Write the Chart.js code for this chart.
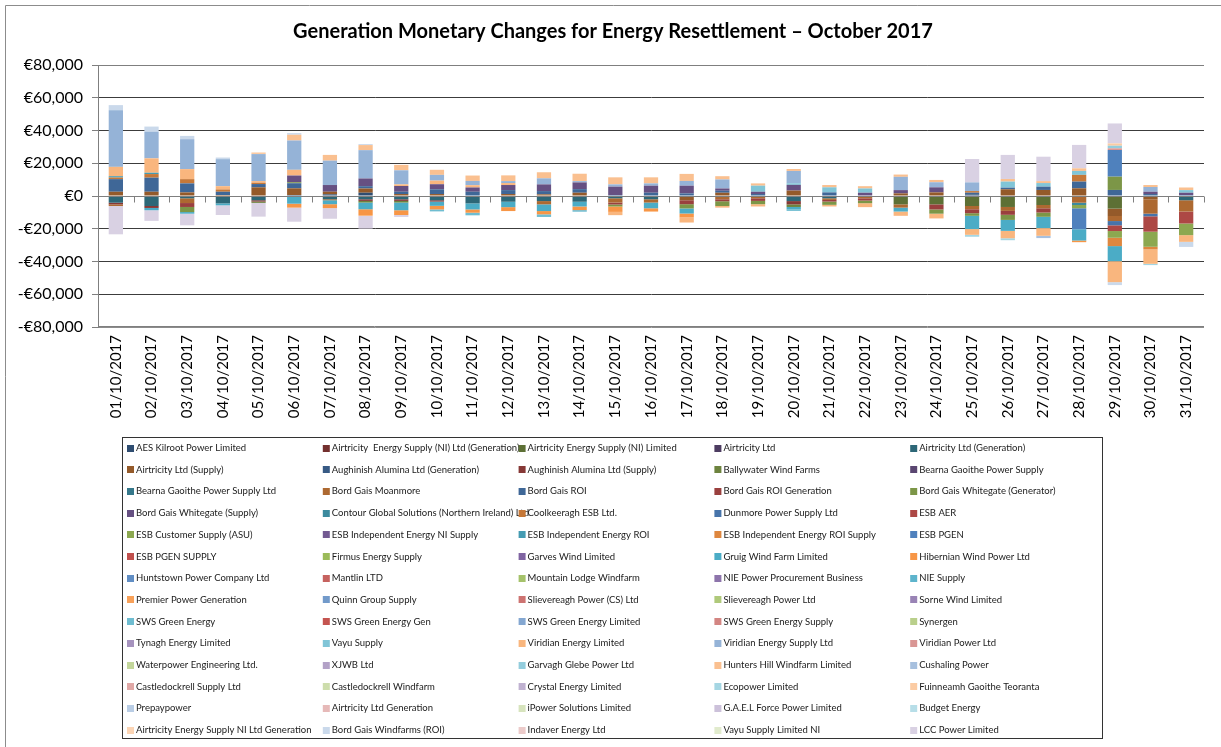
<!DOCTYPE html>
<html>
<head>
<meta charset="utf-8">
<script src="https://cdn.jsdelivr.net/npm/chart.js@4.4.1/dist/chart.umd.min.js"></script>
<style>
  html, body { margin: 0; padding: 0; background: #fff; }
  canvas { display: block; }
</style>
</head>
<body>
<canvas id="chart" width="1221" height="747"></canvas>
<script>
const dates = ['01/10/2017','02/10/2017','03/10/2017','04/10/2017','05/10/2017','06/10/2017','07/10/2017','08/10/2017','09/10/2017','10/10/2017',
  '11/10/2017','12/10/2017','13/10/2017','14/10/2017','15/10/2017','16/10/2017','17/10/2017','18/10/2017','19/10/2017','20/10/2017',
  '21/10/2017','22/10/2017','23/10/2017','24/10/2017','25/10/2017','26/10/2017','27/10/2017','28/10/2017','29/10/2017','30/10/2017','31/10/2017'];

const yMin = -80000, yMax = 80000, yStep = 20000;

const seriesNames = [
  'AES Kilroot Power Limited', 'Airtricity  Energy Supply (NI) Ltd (Generation)', 'Airtricity Energy Supply (NI) Limited', 'Airtricity Ltd', 'Airtricity Ltd (Generation)',
  'Airtricity Ltd (Supply)', 'Aughinish Alumina Ltd (Generation)', 'Aughinish Alumina Ltd (Supply)', 'Ballywater Wind Farms', 'Bearna Gaoithe Power Supply',
  'Bearna Gaoithe Power Supply Ltd', 'Bord Gais Moanmore', 'Bord Gais ROI', 'Bord Gais ROI Generation', 'Bord Gais Whitegate (Generator)',
  'Bord Gais Whitegate (Supply)', 'Contour Global Solutions (Northern Ireland) Ltd', 'Coolkeeragh ESB Ltd.', 'Dunmore Power Supply Ltd', 'ESB AER',
  'ESB Customer Supply (ASU)', 'ESB Independent Energy NI Supply', 'ESB Independent Energy ROI', 'ESB Independent Energy ROI Supply', 'ESB PGEN',
  'ESB PGEN SUPPLY', 'Firmus Energy Supply', 'Garves Wind Limited', 'Gruig Wind Farm Limited', 'Hibernian Wind Power Ltd',
  'Huntstown Power Company Ltd', 'Mantlin LTD', 'Mountain Lodge Windfarm', 'NIE Power Procurement Business', 'NIE Supply',
  'Premier Power Generation', 'Quinn Group Supply', 'Slievereagh Power (CS) Ltd', 'Slievereagh Power Ltd', 'Sorne Wind Limited',
  'SWS Green Energy', 'SWS Green Energy Gen', 'SWS Green Energy Limited', 'SWS Green Energy Supply', 'Synergen',
  'Tynagh Energy Limited', 'Vayu Supply', 'Viridian Energy Limited', 'Viridian Energy Supply Ltd', 'Viridian Power Ltd',
  'Waterpower Engineering Ltd.', 'XJWB Ltd', 'Garvagh Glebe Power Ltd', 'Hunters Hill Windfarm Limited', 'Cushaling Power',
  'Castledockrell Supply Ltd', 'Castledockrell Windfarm', 'Crystal Energy Limited', 'Ecopower Limited', 'Fuinneamh Gaoithe Teoranta',
  'Prepaypower', 'Airtricity Ltd Generation', 'iPower Solutions Limited', 'G.A.E.L Force Power Limited', 'Budget Energy',
  'Airtricity Energy Supply NI Ltd Generation', 'Bord Gais Windfarms (ROI)', 'Indaver Energy Ltd', 'Vayu Supply Limited NI', 'LCC Power Limited'
];

// daily values (EUR), one array per participant that shows up
const aesKilroot          = [0,0,0,0,0,600,1000,2000,0,0, 0,0,0,0,0,0,0,0,0,0, 0,0,0,0,1000,0,0,0,0,0, 0];
const airtricityNiLimited = [0,0,0,0,0,0,0,0,0,0, 0,0,0,0,0,0,0,0,0,0, 0,0,-5100,-5100,-6100,-6700,-5500,0,-7700,0, 0];
const airtricityGen       = [-4100,-6100,-1400,-4500,-2600,-600,-2000,-2000,-2000,-2600, -4500,-3500,-3100,-3500,-1400,-2000,0,0,0,-3100, -1400,0,0,0,0,0,0,0,0,0, -2600];
const airtricitySupply    = [2600,2600,2200,600,5300,4100,1600,2600,1200,1200, 0,1200,1000,2000,0,0,-2600,2000,0,3300, 0,0,1600,2200,0,4100,3700,4700,-4500,-2000, 0];
const aughinishSupply     = [-1000,-1200,0,0,-800,0,0,-1000,-1000,-800, 0,0,0,0,0,0,0,0,0,-2000, 0,0,0,0,0,0,0,0,0,0, 0];
const ballywater          = [0,0,0,0,-800,0,0,-1000,-1000,0, 0,0,0,0,0,0,0,0,0,-1600, 0,0,0,0,0,0,0,0,0,0, 0];
const bordGaisMoanmore    = [-1000,0,-2900,0,0,0,-600,0,0,0, 0,0,-2000,0,-2600,-2000,0,-2000,-1400,0, -1000,-1400,-2000,0,-2000,-2400,-2000,-4100,-3100,-8800, -6900];
const bordGaisRoi         = [7700,8600,5500,2000,2000,3100,0,1400,1400,2900, 2600,2400,2000,2200,600,2000,1600,1200,1200,0, 2200,0,0,0,1000,1000,2000,4100,3700,1200, 600];
const bordGaisRoiGen      = [0,0,-2400,0,0,0,0,0,0,0, 0,0,0,0,-1200,0,-2400,-1200,-1600,0, -1000,-1400,0,-3100,-2400,-2400,-2600,0,0,0, 0];
const whitegateGenerator  = [0,0,-3100,0,0,600,0,0,0,0, 0,0,0,0,-1200,0,-2600,-2900,-2000,0, -2000,-1600,0,-2600,-1600,-3100,-2600,0,8100,0, 0];
const whitegateSupply     = [0,0,0,0,0,4100,4100,4700,3500,3100, 2600,3100,4100,4100,5100,4300,4700,1400,1400,3500, 0,2000,2000,3100,0,0,0,0,0,1400, 1400];
const contourGlobal       = [0,0,0,0,0,0,0,0,0,0, 0,0,0,0,0,0,0,0,0,0, 0,0,0,0,0,0,0,-1400,0,0, 0];
const coolkeeragh         = [1000,2200,2600,1400,800,0,0,0,0,0, 0,0,0,0,0,0,0,0,0,0, 0,0,0,0,1000,0,0,4100,0,0, 0];
const dunmore             = [0,0,0,0,0,0,0,0,0,0, 0,0,0,0,0,0,0,0,0,0, 0,0,0,0,0,0,0,0,-2600,-1600, 0];
const esbAer              = [0,0,0,0,0,0,0,0,0,0, 0,0,0,0,0,0,0,0,0,0, 0,0,0,0,0,0,0,0,-3500,-9400, -7300];
const esbCustomerSupply   = [0,0,0,0,0,0,0,0,0,0, 0,0,0,0,0,0,0,0,0,0, 0,0,0,0,0,0,0,-2000,-4100,-9200, -7100];
const esbIeRoi            = [800,800,0,0,0,0,0,0,0,0, 0,0,0,0,0,0,0,0,0,0, 0,0,0,0,0,0,0,0,0,0, 0];
const esbIeRoiSupply      = [0,0,0,0,0,0,0,0,0,0, 0,0,0,0,0,0,0,0,0,0, 0,0,0,0,0,0,0,0,-5100,-1600, 0];
const esbPgen             = [0,0,0,0,0,0,0,0,0,0, 0,0,0,0,0,0,0,0,0,0, 0,0,0,0,0,0,0,-12800,16300,0, 0];
const gruig               = [0,-1400,-1000,-1200,0,-4100,-2400,-4100,-4700,-2600, -3700,-3300,-4100,-2900,0,-3500,-3100,0,0,-1400, 0,0,-2400,0,-8100,-6700,-6900,-6900,-9200,0, 0];
const hibernian           = [0,0,0,0,0,-2400,-2400,-3500,-2900,-2200, -2000,-2400,-2000,-2200,-3300,-2000,-2400,0,0,0, 0,0,0,0,0,0,0,-1000,0,0, 0];
const swsGreenEnergy      = [0,0,0,0,0,0,0,0,0,-1200, -1600,0,-1600,-1000,0,0,0,0,0,-1000, 0,0,0,0,0,0,0,0,0,0, 0];
const vayuSupply          = [0,0,0,0,0,0,0,0,0,0, 0,0,0,0,0,0,0,0,3700,1000, 3100,2600,0,0,0,3700,2200,2400,0,0, 1600];
const viridianEnergy      = [5700,8800,6100,2000,1000,3500,0,-600,1000,2200, 1400,1200,0,0,-2000,0,-3100,-1000,-1400,0, -1000,-2400,-2600,-2900,-3500,-4500,-4700,0,-12800,-8800, -4100];
const viridianSupply      = [34600,16300,18300,16500,16500,17900,14900,17300,8600,3500, 2600,1200,3700,800,1400,1400,2900,5500,0,7500, 0,0,8100,3100,5300,0,0,0,0,2900, 0];
const viridianPower       = [0,0,0,0,0,0,0,0,0,0, 0,0,0,0,0,0,0,0,0,0, 0,0,0,0,0,0,0,0,1000,0, 0];
const garvaghGlebe        = [0,0,0,0,0,0,0,0,0,0, 0,0,0,0,0,0,0,0,0,0, 0,0,0,0,0,0,0,0,1600,0, 0];
const huntersHill         = [0,0,0,0,0,3500,3500,3100,3300,3100, 3300,3500,3700,4500,4300,3700,4300,2000,1400,1200, 1400,1400,1400,1400,0,1600,1200,1600,0,1200, 1600];
const cushaling           = [0,0,0,0,0,0,0,0,0,0, 0,0,0,0,0,0,0,0,0,0, 0,0,0,0,0,0,-1400,0,0,0, 0];
const ecopower            = [0,0,0,0,0,0,0,0,0,0, 0,0,0,0,0,0,0,0,0,0, 0,0,0,0,-1200,-1200,0,0,0,-800, 0];
const fuinneamh           = [0,0,0,0,1000,0,0,0,0,0, 0,0,0,0,0,0,0,0,0,0, 0,0,0,0,0,0,0,0,1400,0, 0];
const bordGaisWindfarms   = [3100,3100,2000,1000,0,1000,0,600,0,0, 0,0,0,0,0,0,0,0,0,0, 0,0,0,0,0,0,0,0,-1800,0, -3100];
const lccPower            = [-17300,-6500,-7100,-5900,-8400,-8600,-6500,-7700,-1200,0, 0,0,0,0,0,0,0,0,0,0, 0,0,0,0,14300,14700,14900,14300,12200,0, 0];

const valuesFor = {
  'AES Kilroot Power Limited': aesKilroot,
  'Airtricity Energy Supply (NI) Limited': airtricityNiLimited,
  'Airtricity Ltd (Generation)': airtricityGen,
  'Airtricity Ltd (Supply)': airtricitySupply,
  'Aughinish Alumina Ltd (Supply)': aughinishSupply,
  'Ballywater Wind Farms': ballywater,
  'Bord Gais Moanmore': bordGaisMoanmore,
  'Bord Gais ROI': bordGaisRoi,
  'Bord Gais ROI Generation': bordGaisRoiGen,
  'Bord Gais Whitegate (Generator)': whitegateGenerator,
  'Bord Gais Whitegate (Supply)': whitegateSupply,
  'Contour Global Solutions (Northern Ireland) Ltd': contourGlobal,
  'Coolkeeragh ESB Ltd.': coolkeeragh,
  'Dunmore Power Supply Ltd': dunmore,
  'ESB AER': esbAer,
  'ESB Customer Supply (ASU)': esbCustomerSupply,
  'ESB Independent Energy ROI': esbIeRoi,
  'ESB Independent Energy ROI Supply': esbIeRoiSupply,
  'ESB PGEN': esbPgen,
  'Gruig Wind Farm Limited': gruig,
  'Hibernian Wind Power Ltd': hibernian,
  'SWS Green Energy': swsGreenEnergy,
  'Vayu Supply': vayuSupply,
  'Viridian Energy Limited': viridianEnergy,
  'Viridian Energy Supply Ltd': viridianSupply,
  'Viridian Power Ltd': viridianPower,
  'Garvagh Glebe Power Ltd': garvaghGlebe,
  'Hunters Hill Windfarm Limited': huntersHill,
  'Cushaling Power': cushaling,
  'Ecopower Limited': ecopower,
  'Fuinneamh Gaoithe Teoranta': fuinneamh,
  'Bord Gais Windfarms (ROI)': bordGaisWindfarms,
  'LCC Power Limited': lccPower
};

// office-style palette: 6 accent hues, each repeated darker then lighter
const accents = [[79,129,189],[192,80,77],[155,187,89],[128,100,162],[75,172,198],[247,150,70]];
const colorOverrides = { 'SWS Green Energy Gen': 'rgb(196,84,80)' };
function seriesColor(i) {
  const base = accents[i % 6];
  const step = Math.floor(i / 6);
  let rgb;
  if (step < 4) {
    const f = 0.6 + 0.1 * step;
    rgb = base.map(c => Math.round(c * f));
  } else {
    const t = (step - 4) * 0.1;
    rgb = base.map(c => Math.round(c + (255 - c) * t));
  }
  return `rgb(${rgb[0]},${rgb[1]},${rgb[2]})`;
}

const zeros = dates.map(() => 0);
const datasets = seriesNames.map((name, i) => ({
  label: name,
  data: valuesFor[name] || zeros,
  backgroundColor: colorOverrides[name] || seriesColor(i),
  borderWidth: 0,
  barPercentage: 0.4,
  categoryPercentage: 1
}));

const FONT = 'Lato, "Liberation Sans", sans-serif';

function euro(v) {
  return (v < 0 ? '-' : '') + '€' + Math.abs(v).toLocaleString('en-US');
}

const frameAndTitle = {
  id: 'frameAndTitle',
  beforeDraw(chart) {
    const ctx = chart.ctx;
    ctx.save();
    ctx.strokeStyle = '#8c8c8c';
    ctx.lineWidth = 1;
    ctx.beginPath();
    ctx.moveTo(5.5, chart.height);
    ctx.lineTo(5.5, 5.5);
    ctx.lineTo(chart.width, 5.5);
    ctx.stroke();
    ctx.fillStyle = '#000';
    ctx.font = 'bold 20px ' + FONT;
    ctx.textAlign = 'center';
    ctx.textBaseline = 'middle';
    ctx.fillText('Generation Monetary Changes for Energy Resettlement – October 2017', 613, 32);
    ctx.restore();
  }
};

const zeroAxis = {
  id: 'zeroAxis',
  afterDatasetsDraw(chart) {
    const { ctx, chartArea, scales } = chart;
    const y0 = Math.round(scales.y.getPixelForValue(0)) + 0.5;
    const n = dates.length;
    const w = (chartArea.right - chartArea.left) / n;
    ctx.save();
    ctx.strokeStyle = '#7f7f7f';
    ctx.lineWidth = 1;
    ctx.beginPath();
    ctx.moveTo(chartArea.left, y0);
    ctx.lineTo(chartArea.right, y0);
    for (let i = 1; i <= n; i++) {
      const x = Math.round(chartArea.left + i * w) + 0.5;
      ctx.moveTo(x, y0);
      ctx.lineTo(x, y0 + 6);
    }
    ctx.stroke();
    // top and bottom edges in grey
    ctx.beginPath();
    ctx.moveTo(chartArea.left, chartArea.top + 0.5);
    ctx.lineTo(chartArea.right, chartArea.top + 0.5);
    ctx.moveTo(chartArea.left, chartArea.bottom - 0.5);
    ctx.lineTo(chartArea.right, chartArea.bottom - 0.5);
    ctx.stroke();
    ctx.restore();
  }
};

const boxLegend = {
  id: 'boxLegend',
  afterDraw(chart) {
    const ctx = chart.ctx;
    ctx.save();
    ctx.strokeStyle = '#333';
    ctx.lineWidth = 1;
    ctx.strokeRect(122.5, 437.5, 980, 301);
    ctx.font = '9.5px ' + FONT;
    ctx.textBaseline = 'middle';
    ctx.textAlign = 'left';
    chart.data.datasets.forEach((ds, i) => {
      const col = i % 5, row = Math.floor(i / 5);
      const x = 127 + col * 195.8;
      const y = 448 + row * 21.7;
      ctx.fillStyle = ds.backgroundColor;
      ctx.fillRect(x, Math.round(y - 3.5), 7, 7);
      ctx.fillStyle = '#1a1a1a';
      ctx.fillText(ds.label, x + 9, y);
    });
    ctx.restore();
  }
};

new Chart(document.getElementById('chart'), {
  type: 'bar',
  data: { labels: dates, datasets: datasets },
  plugins: [frameAndTitle, zeroAxis, boxLegend],
  options: {
    responsive: false,
    animation: false,
    devicePixelRatio: 1,
    layout: { padding: { left: 0, right: 17, top: 65, bottom: 320 } },
    plugins: {
      legend: { display: false },
      tooltip: { enabled: false }
    },
    scales: {
      x: {
        stacked: true,
        grid: { display: false, drawTicks: false },
        border: { display: false },
        ticks: {
          autoSkip: false, minRotation: 90, maxRotation: 90, padding: 8,
          color: '#000', font: { family: FONT, size: 15 }
        },
        afterFit(scale) { scale.height = 100; }
      },
      y: {
        stacked: true,
        min: yMin, max: yMax,
        grid: {
          color: ctx => (ctx.tick && (ctx.tick.value === yMin || ctx.tick.value === yMax)) ? '#8c8c8c' : '#3c3c3c',
          tickColor: '#7f7f7f',
          tickLength: 6
        },
        border: { color: '#7f7f7f' },
        ticks: {
          stepSize: yStep, padding: 9, color: '#000',
          font: { family: FONT, size: 16 },
          callback: v => euro(v)
        },
        afterFit(scale) { scale.width = 98; }
      }
    }
  }
});
</script>
</body>
</html>
